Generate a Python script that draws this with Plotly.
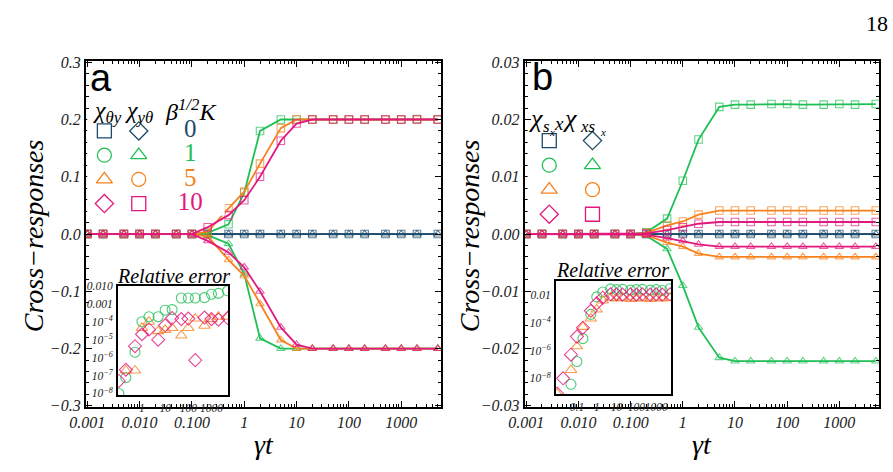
import plotly.graph_objects as go

W, H = 893, 472

# ---------------- data ----------------
t = [0.001, 0.002, 0.005, 0.01, 0.02, 0.05, 0.1, 0.2, 0.5, 1, 2, 5, 10, 20, 50,
     100, 200, 500, 1000, 2000, 5000]

# panel a : cross responses chi_theta_y (upper) / chi_y_theta (lower)
a_k0_pos = [0, 0, 0, 0, 0, 0, 0, 0, 0, 0, 0, 0, 0, 0, 0, 0, 0, 0, 0, 0, 0]
a_k0_neg = [0, 0, 0, 0, 0, 0, 0, 0, 0, 0, 0, 0, 0, 0, 0, 0, 0, 0, 0, 0, 0]
a_k1_pos = [0, 0, 0, 0, 0, 0, 0, 0.002, 0.017, 0.072, 0.180, 0.200, 0.200, 0.200, 0.200,
            0.200, 0.200, 0.200, 0.200, 0.201, 0.200]
a_k1_neg = [0, 0, 0, 0, 0, 0, 0, -0.002, -0.017, -0.070, -0.182, -0.200, -0.200, -0.200,
            -0.200, -0.200, -0.200, -0.200, -0.200, -0.200, -0.200]
a_k5_pos = [0, 0, 0, 0, 0, 0, 0, 0.004, 0.045, 0.074, 0.123, 0.185, 0.200, 0.200, 0.200,
            0.200, 0.200, 0.200, 0.200, 0.200, 0.200]
a_k5_neg = [0, 0, 0, 0, 0, 0, 0, -0.004, -0.045, -0.073, -0.122, -0.185, -0.200, -0.200,
            -0.200, -0.200, -0.200, -0.200, -0.200, -0.200, -0.200]
a_k10_pos = [0, 0, 0, 0, 0, 0, 0, 0.012, 0.033, 0.059, 0.100, 0.163, 0.193, 0.200, 0.200,
             0.200, 0.200, 0.200, 0.200, 0.200, 0.200]
a_k10_neg = [0, 0, 0, 0, 0, 0, 0, -0.012, -0.032, -0.058, -0.100, -0.163, -0.193, -0.200,
             -0.200, -0.200, -0.200, -0.200, -0.200, -0.200, -0.200]

# panel b : chi_{s_x x} (upper) / chi_{x s_x} (lower)
b_k0_pos = [0, 0, 0, 0, 0, 0, 0, 0, 0, 0, 0, 0, 0, 0, 0, 0, 0, 0, 0, 0, 0]
b_k0_neg = [0, 0, 0, 0, 0, 0, 0, 0, 0, 0, 0, 0, 0, 0, 0, 0, 0, 0, 0, 0, 0]
b_k1_pos = [0, 0, 0, 0, 0, 0, 0, 0.0003, 0.0027, 0.0093, 0.0165, 0.0222, 0.0226, 0.0226,
            0.0227, 0.0227, 0.0226, 0.0226, 0.0227, 0.0226, 0.0227]
b_k1_neg = [0, 0, 0, 0, 0, 0, 0, -0.0003, -0.0026, -0.0090, -0.0163, -0.0216, -0.0222,
            -0.0222, -0.0222, -0.0222, -0.0222, -0.0222, -0.0222, -0.0222, -0.0222]
b_k5_pos = [0, 0, 0, 0, 0, 0, 0, 0.0002, 0.0015, 0.0022, 0.0034, 0.0041, 0.0041, 0.0041,
            0.0041, 0.0041, 0.0041, 0.0041, 0.0041, 0.0041, 0.0041]
b_k5_neg = [0, 0, 0, 0, 0, 0, 0, -0.0002, -0.0015, -0.0022, -0.0034, -0.0040, -0.0040,
            -0.0040, -0.0040, -0.0040, -0.0040, -0.0040, -0.0040, -0.0040, -0.0040]
b_k10_pos = [0, 0, 0, 0, 0, 0, 0, 0.0001, 0.0007, 0.0012, 0.0018, 0.0021, 0.0021, 0.0021,
             0.0021, 0.0021, 0.0021, 0.0021, 0.0021, 0.0021, 0.0021]
b_k10_neg = [0, 0, 0, 0, 0, 0, 0, -0.0001, -0.0007, -0.0012, -0.0018, -0.0022, -0.0022,
             -0.0022, -0.0022, -0.0022, -0.0022, -0.0022, -0.0022, -0.0022, -0.0022]

# insets: relative error
ti_a = [0.1, 0.2, 0.5, 1, 2, 5, 10, 20, 50, 100, 200, 500, 1000, 2000, 5000]
err_a_k1 = [1.0e-8, 7.6e-8, 2.0e-6, 1.0e-4, 1.9e-4, 1.9e-4, 4.4e-4, 4.7e-4, 2.1e-3,
            2.1e-3, 2.1e-3, 2.2e-3, 3.4e-3, 3.8e-3, 5.3e-3]
err_a_k5 = [None, 1.9e-7, 1.9e-7, 4.5e-5, 1.0e-4, 3.0e-5, 3.5e-5, 4.5e-5, 1.7e-5,
            4.5e-5, 1.5e-4, 6.0e-5, 1.4e-4, 1.9e-4, 1.9e-4]
err_a_k10 = [5.0e-8, 2.1e-7, 4.3e-6, 2.0e-5, 3.7e-5, 1.0e-5, 6.3e-5, 1.6e-4, 1.4e-4,
             1.5e-4, 7.2e-7, 1.7e-4, 1.4e-4, 1.3e-4, 1.6e-4]

ti_b = [0.01, 0.02, 0.05, 0.1, 0.2, 0.5, 1, 2, 5, 10, 20, 50, 100, 200, 500, 1000, 2000, 5000]
err_b_k1 = [None, None, 3.7e-9, 1.6e-7, 7.2e-6, 4.0e-4, 7.2e-3, 1.6e-2, 2.7e-2, 2.4e-2,
            2.5e-2, 2.2e-2, 2.4e-2, 2.5e-2, 2.2e-2, 2.4e-2, 2.1e-2, 2.8e-2]
err_b_k5 = [7.9e-10, None, 4.0e-8, 2.0e-6, 5.0e-5, 2.0e-4, 8.9e-4, 4.0e-3, 6.3e-3, 5.6e-3,
            6.3e-3, 5.2e-3, 6.3e-3, 5.6e-3, 5.2e-3, 6.3e-3, 5.6e-3, 6.3e-3]
err_b_k10 = [7.9e-10, 1.0e-8, 5.0e-7, 1.0e-5, 4.4e-5, 7.2e-4, 2.5e-3, 6.3e-3, 1.1e-2,
             1.1e-2, 1.05e-2, 1.1e-2, 1.05e-2, 1.1e-2, 1.05e-2, 1.1e-2, 1.05e-2, 1.1e-2]

# tick labels
x_tickvals = [0.001, 0.01, 0.1, 1, 10, 100, 1000]
x_ticktext = ["0.001", "0.010", "0.100", "1", "10", "100", "1000"]
ya_tickvals = [-0.3, -0.2, -0.1, 0.0, 0.1, 0.2, 0.3]
ya_ticktext = ["\u22120.3", "\u22120.2", "\u22120.1", "0.0", "0.1", "0.2", "0.3"]
yb_tickvals = [-0.03, -0.02, -0.01, 0.0, 0.01, 0.02, 0.03]
yb_ticktext = ["\u22120.03", "\u22120.02", "\u22120.01", "0.00", "0.01", "0.02", "0.03"]
ia_xtickvals = [1, 10, 100, 1000]
ia_xticktext = ["1", "10", "100", "1000"]
ia_ytickvals = [1e-2, 1e-3, 1e-4, 1e-5, 1e-6, 1e-7, 1e-8]
ia_yticktext = ["0.010", "0.001", "10<sup>\u22124</sup>", "10<sup>\u22125</sup>",
                "10<sup>\u22126</sup>", "10<sup>\u22127</sup>", "10<sup>\u22128</sup>"]
ib_xtickvals = [0.1, 1, 10, 100, 1000]
ib_xticktext = ["0.1", "1", "10", "100", "1000"]
ib_ytickvals = [1e-2, 1e-4, 1e-6, 1e-8]
ib_yticktext = ["0.01", "10<sup>\u22124</sup>", "10<sup>\u22126</sup>", "10<sup>\u22128</sup>"]

K_labels = ["0", "1", "5", "10"]
legend_col1 = ["square-open", "circle-open", "triangle-up-open", "diamond-open"]
legend_col2 = ["diamond-open", "triangle-up-open", "circle-open", "square-open"]

# ---------------- style ----------------
BLUE, GREEN, ORANGE, MAG = "#1d4a6b", "#1fbf55", "#f7811d", "#e2187d"
colors = [BLUE, GREEN, ORANGE, MAG]
SERIF = "Liberation Serif, Times New Roman, serif"


def rgba(hexc, a):
    h = hexc.lstrip("#")
    return "rgba(%d,%d,%d,%.2f)" % (int(h[0:2], 16), int(h[2:4], 16), int(h[4:6], 16), a)


def dx(l, r):
    return [l / W, r / W]


def dy(top, bot):
    return [1 - bot / H, 1 - top / H]


fig = go.Figure()

panels = [
    ("x", "y", [a_k0_pos, a_k1_pos, a_k5_pos, a_k10_pos], [a_k0_neg, a_k1_neg, a_k5_neg, a_k10_neg]),
    ("x2", "y2", [b_k0_pos, b_k1_pos, b_k5_pos, b_k10_pos], [b_k0_neg, b_k1_neg, b_k5_neg, b_k10_neg]),
]
for xa, ya, pos, neg in panels:
    for c, p, n in zip(colors, pos, neg):
        for series, sym in ((p, "square-open"), (n, "triangle-up-open")):
            fig.add_trace(go.Scatter(
                x=t, y=series, xaxis=xa, yaxis=ya, mode="lines+markers",
                line=dict(color=c, width=1.8),
                marker=dict(symbol=sym, size=7.5, color=rgba(c, 0.7),
                            line=dict(width=1.1, color=rgba(c, 0.7))),
                showlegend=False, hoverinfo="skip"))

# insets
insets = [
    ("x3", "y3", ti_a, [err_a_k1, err_a_k5, err_a_k10]),
    ("x4", "y4", ti_b, [err_b_k1, err_b_k5, err_b_k10]),
]
inset_syms = ["circle-open", "triangle-up-open", "diamond-open"]
for xa, ya, ti, errs in insets:
    for c, e, sym in zip(colors[1:], errs, inset_syms):
        fig.add_trace(go.Scatter(
            x=ti, y=e, xaxis=xa, yaxis=ya, mode="markers",
            marker=dict(symbol=sym, size=10, color=rgba(c, 0.8),
                        line=dict(width=1.1, color=rgba(c, 0.8))),
            showlegend=False, hoverinfo="skip"))

# custom legends (rows indexed from label lists)
for xa, ya, with_nums in (("x5", "y5", True), ("x6", "y6", False)):
    for i, lab in enumerate(K_labels):
        fig.add_trace(go.Scatter(
            x=[0, 1], y=[i, i], xaxis=xa, yaxis=ya, mode="markers",
            marker=dict(symbol=[legend_col1[i], legend_col2[i]], size=14,
                        color=colors[i], line=dict(width=1.3, color=colors[i])),
            showlegend=False, hoverinfo="skip"))
        if with_nums:
            fig.add_trace(go.Scatter(
                x=[2.5], y=[i], xaxis=xa, yaxis=ya, mode="text", text=[lab],
                textfont=dict(family=SERIF, size=25, color=colors[i]),
                showlegend=False, hoverinfo="skip"))

# ---------------- axes ----------------
tickfont_main = dict(family=SERIF, size=16, style="italic", color="#222")
minor_x = [k * 10.0 ** d for d in range(-3, 4) for k in range(2, 10)]


def main_x(domain):
    return dict(type="log", range=[-3.03, 3.765], domain=domain,
                showline=True, linecolor="black", linewidth=1.8, mirror="allticks",
                ticks="inside", ticklen=6, tickwidth=1.2, tickcolor="black",
                tickvals=x_tickvals, ticktext=x_ticktext, tickfont=tickfont_main,
                tickangle=0,
                minor=dict(ticks="inside", ticklen=3, tickwidth=1, tickcolor="black",
                           tickvals=minor_x),
                showgrid=False, zeroline=False)


def main_y(domain, rng, tv, tt, mstep, anchor):
    n = int(round((rng[1] - rng[0]) / mstep))
    return dict(range=[rng[0] * 1.006, rng[1] * 1.006], domain=domain, anchor=anchor,
                showline=True, linecolor="black", linewidth=1.8, mirror="allticks",
                ticks="inside", ticklen=6, tickwidth=1.2, tickcolor="black",
                tickvals=tv, ticktext=tt, tickfont=tickfont_main,
                minor=dict(ticks="inside", ticklen=3, tickwidth=1, tickcolor="black",
                           tickvals=[rng[0] + mstep * i for i in range(n + 1)]),
                showgrid=False, zeroline=False)


tickfont_inset = dict(family=SERIF, size=11.5, style="italic", color="#222")


def inset_axis(domain, rng, tv, tt, anchor):
    return dict(type="log", range=rng, domain=domain, anchor=anchor,
                showline=True, linecolor="black", linewidth=2.2, mirror=True,
                ticks="", tickvals=tv, ticktext=tt, tickfont=tickfont_inset,
                tickangle=0, ticklabelstandoff=1,
                showgrid=False, zeroline=False)


hidden = dict(visible=False, showgrid=False, zeroline=False)

fig.update_layout(
    width=W, height=H, margin=dict(l=0, r=0, t=0, b=0),
    paper_bgcolor="white", plot_bgcolor="white", showlegend=False,
    xaxis=dict(main_x(dx(71, 433)), anchor="y"),
    yaxis=main_y(dy(56, 413), [-0.3, 0.3], ya_tickvals, ya_ticktext, 0.02, "x"),
    xaxis2=dict(main_x(dx(518, 879)), anchor="y2"),
    yaxis2=main_y(dy(56, 413), [-0.03, 0.03], yb_tickvals, yb_ticktext, 0.002, "x2"),
    xaxis3=inset_axis(dx(104, 216), [-1.03, 3.72], ia_xtickvals, ia_xticktext, "y3"),
    yaxis3=inset_axis(dy(288, 401), [-8.1, -2.0], ia_ytickvals, ia_yticktext, "x3"),
    xaxis4=inset_axis(dx(550, 667), [-2.05, 3.75], ib_xtickvals, ib_xticktext, "y4"),
    yaxis4=inset_axis(dy(283, 400), [-9.15, -1.0], ib_ytickvals, ib_yticktext, "x4"),
    xaxis5=dict(hidden, domain=dx(72.5, 212.5), range=[-0.5, 3.5], anchor="y5"),
    yaxis5=dict(hidden, domain=dy(115.5, 215.5), range=[3.5, -0.5], anchor="x5"),
    xaxis6=dict(hidden, domain=dx(521, 609), range=[-0.5, 1.5], anchor="y6"),
    yaxis6=dict(hidden, domain=dy(125.3, 226.7), range=[3.5, -0.5], anchor="x6"),
)


def ann(text, px, py, size, family=SERIF, italic=True, color="black", angle=0,
        xanchor="center"):
    if italic:
        text = "<i>" + text + "</i>"
    fig.add_annotation(text=text, x=px / W, y=1 - py / H, xref="paper", yref="paper",
                       showarrow=False, textangle=angle, xanchor=xanchor, yanchor="middle",
                       font=dict(family=family, size=size, color=color))


ann("a", 87, 73, 38, family="Liberation Sans, Arial, sans-serif", italic=False)
ann("b", 536, 72, 38, family="Liberation Sans, Arial, sans-serif", italic=False)
ann("18", 877, 17, 22, italic=False)
ann("Cross\u2212responses", 18, 236, 28, angle=-90)
ann("Cross\u2212responses", 462, 236, 28, angle=-90)
ann("\u03b3t", 253, 452, 28)
ann("\u03b3t", 699, 452, 28)
ann("Relative error", 160, 278, 20)
ann("Relative error", 607, 272, 20)
# legend header, panel a
ann("\u03c7<sub>\u03b8y</sub>", 93, 108, 24)
ann("\u03c7<sub>y\u03b8</sub>", 125, 108, 24)
ann("\u03b2<sup>1/2</sup>K", 178, 106, 24)
# legend header, panel b : chi_{s_x x} chi_{x s_x}
ann("\u03c7", 529, 115, 26)
ann("s", 540, 123, 17)
ann("x", 546, 129, 11)
ann("x", 553, 120, 19)
ann("\u03c7", 564, 115, 26)
ann("xs", 582, 123, 17)
ann("x", 598, 129, 11)

fig.write_html("out.html")
